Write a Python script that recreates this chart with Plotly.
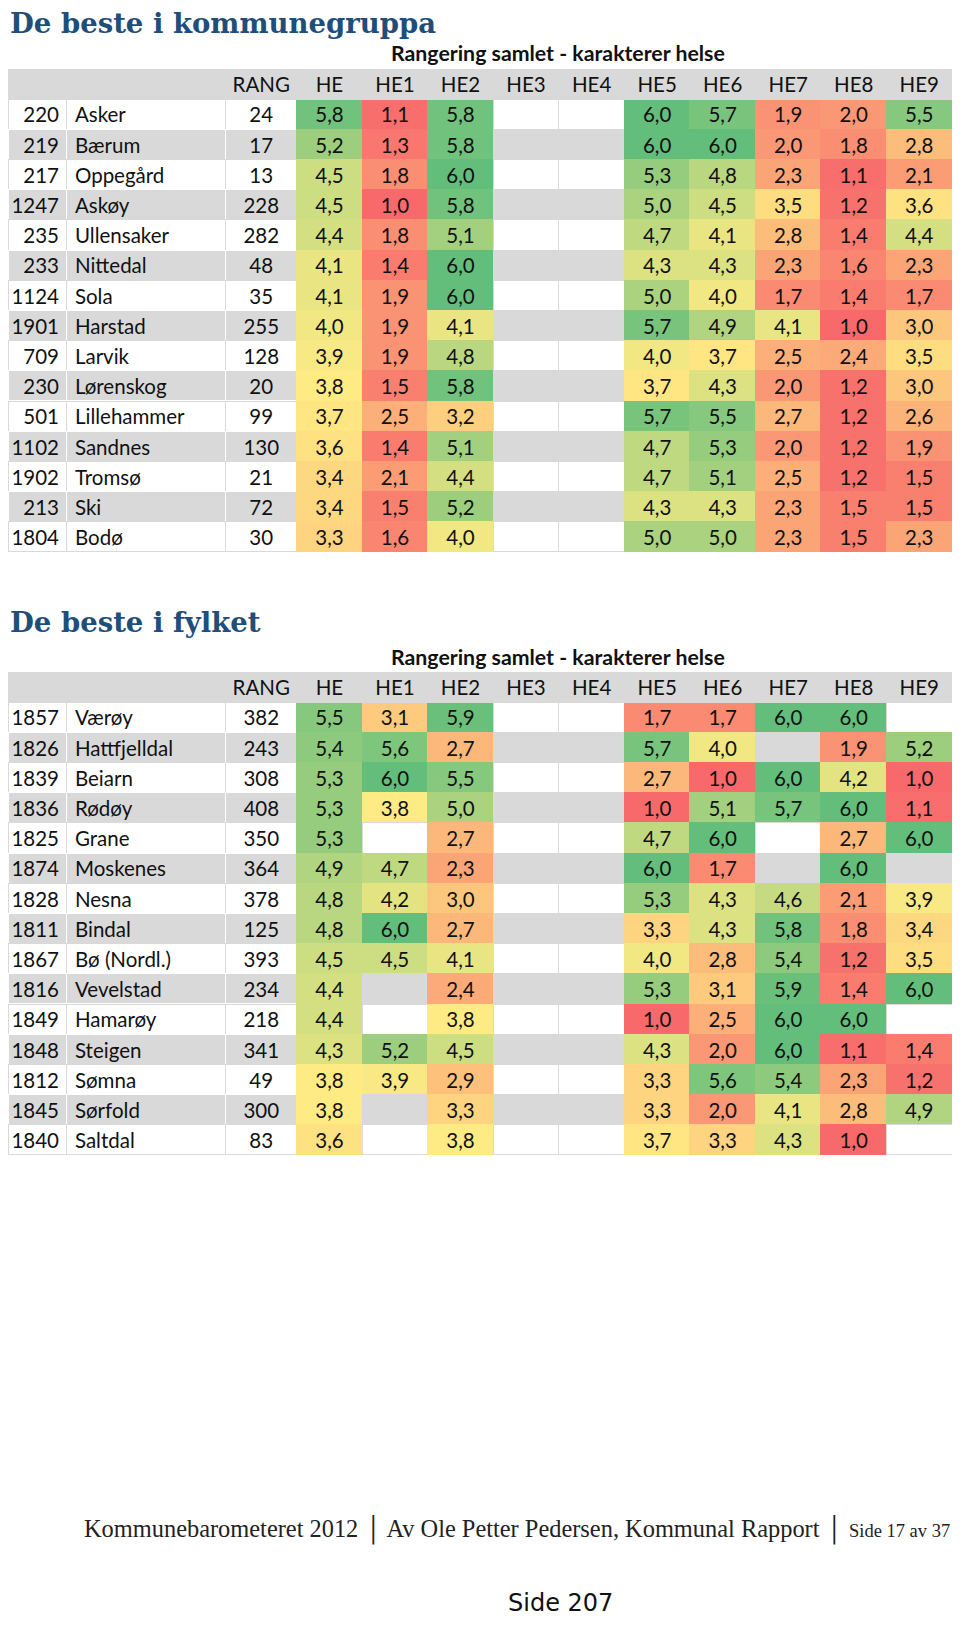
import plotly.graph_objects as go

# ---------------- data ----------------
col_headers = ["", "", "RANG", "HE", "HE1", "HE2", "HE3", "HE4", "HE5", "HE6", "HE7", "HE8", "HE9"]

kg_nr = [220, 219, 217, 1247, 235, 233, 1124, 1901, 709, 230, 501, 1102, 1902, 213, 1804]
kg_navn = ["Asker", "Bærum", "Oppegård", "Askøy", "Ullensaker", "Nittedal", "Sola", "Harstad",
           "Larvik", "Lørenskog", "Lillehammer", "Sandnes", "Tromsø", "Ski", "Bodø"]
kg_rang = [24, 17, 13, 228, 282, 48, 35, 255, 128, 20, 99, 130, 21, 72, 30]
kg_he = [5.8, 5.2, 4.5, 4.5, 4.4, 4.1, 4.1, 4.0, 3.9, 3.8, 3.7, 3.6, 3.4, 3.4, 3.3]
kg_he1 = [1.1, 1.3, 1.8, 1.0, 1.8, 1.4, 1.9, 1.9, 1.9, 1.5, 2.5, 1.4, 2.1, 1.5, 1.6]
kg_he2 = [5.8, 5.8, 6.0, 5.8, 5.1, 6.0, 6.0, 4.1, 4.8, 5.8, 3.2, 5.1, 4.4, 5.2, 4.0]
kg_he3 = [None] * 15
kg_he4 = [None] * 15
kg_he5 = [6.0, 6.0, 5.3, 5.0, 4.7, 4.3, 5.0, 5.7, 4.0, 3.7, 5.7, 4.7, 4.7, 4.3, 5.0]
kg_he6 = [5.7, 6.0, 4.8, 4.5, 4.1, 4.3, 4.0, 4.9, 3.7, 4.3, 5.5, 5.3, 5.1, 4.3, 5.0]
kg_he7 = [1.9, 2.0, 2.3, 3.5, 2.8, 2.3, 1.7, 4.1, 2.5, 2.0, 2.7, 2.0, 2.5, 2.3, 2.3]
kg_he8 = [2.0, 1.8, 1.1, 1.2, 1.4, 1.6, 1.4, 1.0, 2.4, 1.2, 1.2, 1.2, 1.2, 1.5, 1.5]
kg_he9 = [5.5, 2.8, 2.1, 3.6, 4.4, 2.3, 1.7, 3.0, 3.5, 3.0, 2.6, 1.9, 1.5, 1.5, 2.3]

fy_nr = [1857, 1826, 1839, 1836, 1825, 1874, 1828, 1811, 1867, 1816, 1849, 1848, 1812, 1845, 1840]
fy_navn = ["Værøy", "Hattfjelldal", "Beiarn", "Rødøy", "Grane", "Moskenes", "Nesna", "Bindal",
           "Bø (Nordl.)", "Vevelstad", "Hamarøy", "Steigen", "Sømna", "Sørfold", "Saltdal"]
fy_rang = [382, 243, 308, 408, 350, 364, 378, 125, 393, 234, 218, 341, 49, 300, 83]
fy_he = [5.5, 5.4, 5.3, 5.3, 5.3, 4.9, 4.8, 4.8, 4.5, 4.4, 4.4, 4.3, 3.8, 3.8, 3.6]
fy_he1 = [3.1, 5.6, 6.0, 3.8, None, 4.7, 4.2, 6.0, 4.5, None, None, 5.2, 3.9, None, None]
fy_he2 = [5.9, 2.7, 5.5, 5.0, 2.7, 2.3, 3.0, 2.7, 4.1, 2.4, 3.8, 4.5, 2.9, 3.3, 3.8]
fy_he3 = [None] * 15
fy_he4 = [None] * 15
fy_he5 = [1.7, 5.7, 2.7, 1.0, 4.7, 6.0, 5.3, 3.3, 4.0, 5.3, 1.0, 4.3, 3.3, 3.3, 3.7]
fy_he6 = [1.7, 4.0, 1.0, 5.1, 6.0, 1.7, 4.3, 4.3, 2.8, 3.1, 2.5, 2.0, 5.6, 2.0, 3.3]
fy_he7 = [6.0, None, 6.0, 5.7, None, None, 4.6, 5.8, 5.4, 5.9, 6.0, 6.0, 5.4, 4.1, 4.3]
fy_he8 = [6.0, 1.9, 4.2, 6.0, 2.7, 6.0, 2.1, 1.8, 1.2, 1.4, 6.0, 1.1, 2.3, 2.8, 1.0]
fy_he9 = [None, 5.2, 1.0, 1.1, 6.0, None, 3.9, 3.4, 3.5, 6.0, None, 1.4, 1.2, 4.9, None]

titles = ["De beste i kommunegruppa", "De beste i fylket"]
subtitle = "Rangering samlet - karakterer helse"
footer = "Kommunebarometeret 2012 │ Av Ole Petter Pedersen, Kommunal Rapport │ "
footer_page = "Side 17 av 37"
page_label = "Side 207"

# ---------------- styling ----------------
OFF = 8                      # browser body margin (both sides)
W, H = 960 - 2 * OFF, 1628 - 2 * OFF
GRAY = "#D9D9D9"
RED, YEL, GRN = (248, 105, 107), (255, 235, 132), (99, 190, 123)
VMIN, VMID, VMAX = 1.0, 3.8, 6.0
FONT = "Lato"


def px_x(x):
    return min(1.0, max(0.0, (x - OFF) / W))


def px_y(y):
    return 1 - (y - OFF) / H


def scale_color(v):
    if v <= VMID:
        t = (v - VMIN) / (VMID - VMIN)
        a, b = RED, YEL
    else:
        t = (v - VMID) / (VMAX - VMID)
        a, b = YEL, GRN
    t = max(0.0, min(1.0, t))
    c = [round(a[i] + (b[i] - a[i]) * t) for i in range(3)]
    return "rgb(%d,%d,%d)" % tuple(c)


def fmt(v):
    return "" if v is None else ("%.1f" % v).replace(".", ",")


def build_table(nr, navn, rang, value_cols, top_px):
    n = len(nr)
    row_bg = ["white" if i % 2 == 0 else GRAY for i in range(n)]
    values = [[str(x) for x in nr], navn, [str(x) for x in rang]]
    fills = [row_bg, row_bg, row_bg]
    lines = [[GRAY if i % 2 == 0 else "white" for i in range(n)]] * 3
    for col in value_cols:
        values.append([fmt(v) for v in col])
        fills.append([row_bg[i] if v is None else scale_color(v) for i, v in enumerate(col)])
        lines.append([GRAY if v is None else scale_color(v) for v in col])
    row_h = 30.2
    head_h = 30
    total = head_h + n * row_h + 8
    return go.Table(
        domain=dict(x=[px_x(7), px_x(953)], y=[px_y(top_px + total), px_y(top_px)]),
        columnwidth=[59, 159, 71] + [65.6] * 10,
        header=dict(
            values=col_headers,
            fill_color=GRAY,
            line=dict(color=GRAY, width=1),
            align=["right", "left"] + ["center"] * 11,
            font=dict(family=FONT, size=20.5, color="#111"),
            height=head_h,
        ),
        cells=dict(
            values=values,
            fill_color=fills,
            line=dict(color=lines, width=1),
            align=["right", "left"] + ["center"] * 11,
            font=dict(family=FONT, size=20.5, color="#111"),
            height=row_h,
        ),
    )


t1 = build_table(kg_nr, kg_navn, kg_rang,
                 [kg_he, kg_he1, kg_he2, kg_he3, kg_he4, kg_he5, kg_he6, kg_he7, kg_he8, kg_he9], 69)
t2 = build_table(fy_nr, fy_navn, fy_rang,
                 [fy_he, fy_he1, fy_he2, fy_he3, fy_he4, fy_he5, fy_he6, fy_he7, fy_he8, fy_he9], 672)

fig = go.Figure([t1, t2])

annotations = [
    dict(text="<b>%s</b>" % titles[0], x=px_x(8), y=px_y(23), xanchor="left", yanchor="middle",
         font=dict(family="DejaVu Serif", size=27.5, color="#1F4E79")),
    dict(text="<b>%s</b>" % titles[1], x=px_x(8), y=px_y(622), xanchor="left", yanchor="middle",
         font=dict(family="DejaVu Serif", size=27.5, color="#1F4E79")),
    dict(text="<b>%s</b>" % subtitle, x=px_x(558), y=px_y(53.5), xanchor="center", yanchor="middle",
         font=dict(family=FONT, size=21.3, color="#111")),
    dict(text="<b>%s</b>" % subtitle, x=px_x(558), y=px_y(657), xanchor="center", yanchor="middle",
         font=dict(family=FONT, size=21.3, color="#111")),
    dict(text=footer + "<span style='font-size:18.5px'>%s</span>" % footer_page,
         x=px_x(960), y=px_y(1529), xanchor="right", yanchor="middle",
         font=dict(family="Liberation Serif", size=24.4, color="#222")),
    dict(text=page_label, x=px_x(560), y=px_y(1603), xanchor="center", yanchor="middle",
         font=dict(family="DejaVu Sans", size=24, color="#111")),
]
for a in annotations:
    a.update(xref="paper", yref="paper", showarrow=False)

fig.update_layout(
    width=W, height=H,
    margin=dict(l=0, r=0, t=0, b=0),
    paper_bgcolor="white", plot_bgcolor="white",
    annotations=annotations,
)

fig.write_html("out.html")
